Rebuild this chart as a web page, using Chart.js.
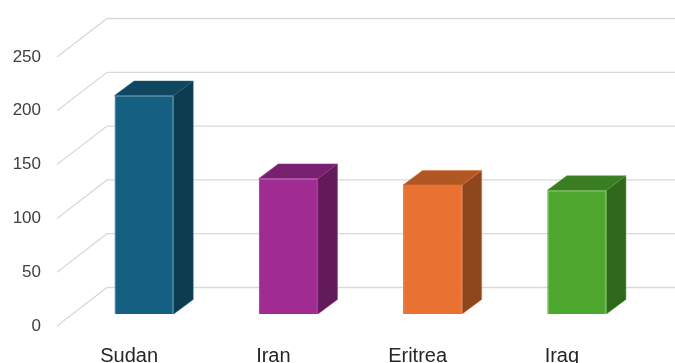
<!DOCTYPE html>
<html>
<head>
<meta charset="utf-8">
<style>
html, body { margin: 0; padding: 0; background: #fff; overflow: hidden; }
#wrap { width: 675px; height: 363px; }
</style>
<script src="https://cdn.jsdelivr.net/npm/chart.js@4"></script>
</head>
<body>
<div id="wrap"><canvas id="chart" width="675" height="363"></canvas></div>
<script>
var categories = ['Sudan', 'Iran', 'Eritrea', 'Iraq'];
var values = [203, 126, 120, 115];
var tickValues = [0, 50, 100, 150, 200, 250];

var frontColors = ['#156082', '#A02B93', '#E97132', '#4EA72E'];
var topColors = ['#0F4761', '#782070', '#B05724', '#3A7D22'];
var sideColors = ['#0B3C50', '#621A5A', '#8E471C', '#2F681B'];

// depth of the fake 3d box
var wallDx = 50, wallDy = 38.5;   // floor/side walls
var barShiftX = 15, barShiftY = 12; // bars stand half way into the floor
var barDx = 19.5, barDy = 14.5;

var wallPlugin = {
    id: 'wall',
    beforeDatasetsDraw: function(chart) {
        var ctx = chart.ctx;
        var y = chart.scales.y;
        ctx.save();
        ctx.strokeStyle = '#D9D9D9';
        ctx.lineWidth = 1.3;
        tickValues.forEach(function(v) {
            var py = y.getPixelForValue(v);
            ctx.beginPath();
            ctx.moveTo(y.right, py);
            ctx.lineTo(y.right + wallDx, py - wallDy);
            ctx.lineTo(chart.width, py - wallDy);
            ctx.stroke();
        });
        ctx.restore();
        // bars are drawn shifted back into the box
        ctx.save();
        ctx.translate(barShiftX, -barShiftY);
    },
    afterDatasetsDraw: function(chart) {
        var ctx = chart.ctx;
        chart.getDatasetMeta(0).data.forEach(function(bar, i) {
            var l = bar.x - bar.width / 2, r = bar.x + bar.width / 2;
            var t = bar.y, b = bar.base;
            // top face
            ctx.fillStyle = topColors[i];
            ctx.strokeStyle = frontColors[i];
            ctx.lineWidth = 0.5;
            ctx.beginPath();
            ctx.moveTo(l, t);
            ctx.lineTo(l + barDx, t - barDy);
            ctx.lineTo(r + barDx, t - barDy);
            ctx.lineTo(r, t);
            ctx.closePath();
            ctx.fill();
            ctx.stroke();
            // side face
            ctx.fillStyle = sideColors[i];
            ctx.beginPath();
            ctx.moveTo(r, t);
            ctx.lineTo(r + barDx, t - barDy);
            ctx.lineTo(r + barDx, b - barDy);
            ctx.lineTo(r, b);
            ctx.closePath();
            ctx.fill();
            ctx.stroke();
        });
        ctx.restore();
    }
};

new Chart(document.getElementById('chart').getContext('2d'), {
    type: 'bar',
    data: {
        labels: categories,
        datasets: [{
            data: values,
            backgroundColor: frontColors,
            borderColor: frontColors,
            borderWidth: 1,
            barPercentage: 0.41,
            categoryPercentage: 1,
            clip: false
        }]
    },
    options: {
        responsive: false,
        animation: false,
        layout: { padding: { top: 57, right: 41, left: 0, bottom: 0 } },
        plugins: {
            legend: { display: false },
            tooltip: { enabled: false },
            title: { display: false }
        },
        scales: {
            x: {
                grid: { display: false },
                border: { display: false },
                afterFit: function(scale) { scale.height = 37; },
                ticks: {
                    padding: 10,
                    maxRotation: 0,
                    color: '#262626',
                    font: { family: '"Liberation Sans"', size: 20 }
                }
            },
            y: {
                min: 0,
                max: 250,
                grid: { display: false },
                border: { display: false },
                afterFit: function(scale) { scale.width = 57; },
                afterBuildTicks: function(scale) {
                    scale.ticks = tickValues.map(function(v) { return { value: v }; });
                },
                ticks: {
                    padding: 8,
                    color: '#404040',
                    font: { family: '"Liberation Sans"', size: 17 }
                }
            }
        }
    },
    plugins: [wallPlugin]
});
</script>
</body>
</html>
